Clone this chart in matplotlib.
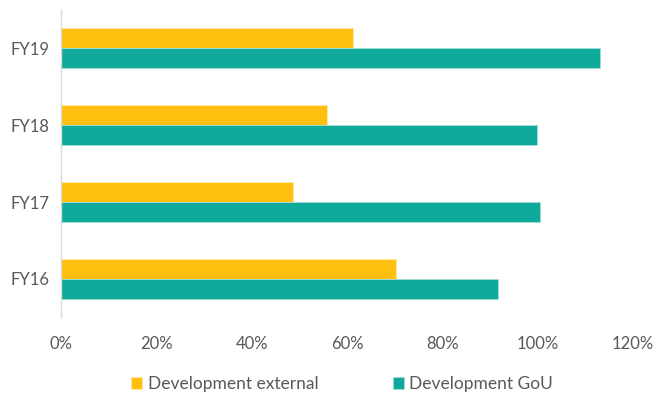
import numpy as np
import matplotlib.pyplot as plt

years = ["FY16", "FY17", "FY18", "FY19"]
dev_external = [0.703, 0.486, 0.558, 0.613]
dev_gou = [0.917, 1.005, 0.999, 1.130]

plt.rcParams['font.family'] = ['Lato', 'DejaVu Sans']

fig = plt.figure(figsize=(6.68, 3.98), dpi=100)
ax = fig.add_axes([0.0913, 0.2023, 0.8563, 0.7737])

y = np.arange(len(years))
h = 0.26
ax.barh(y + h / 2, dev_external, height=h, color="#FFC010",
        edgecolor="#FFE9A8", linewidth=0.6, label="Development external")
ax.barh(y - h / 2, dev_gou, height=h, color="#0FAA9C",
        edgecolor="#A6DCD6", linewidth=0.6, label="Development GoU")

ax.set_xlim(0, 1.2)
ax.set_ylim(-0.5, 3.5)
ax.set_yticks(y)
ax.set_yticklabels(years)
ax.set_xticks(np.arange(0, 1.21, 0.2))
ax.set_xticklabels([f"{int(round(v * 100))}%" for v in np.arange(0, 1.21, 0.2)])
ax.tick_params(length=0, labelsize=12, labelcolor="#595959")
ax.tick_params(axis="x", pad=13)
ax.tick_params(axis="y", pad=8)

for s in ["top", "right", "bottom"]:
    ax.spines[s].set_visible(False)
ax.spines["left"].set_color("#D9D9D9")
ax.spines["left"].set_linewidth(1.0)

fig.legend(loc="center", bbox_to_anchor=(0.512, 0.035), ncol=2, frameon=False,
           fontsize=12.5, labelcolor="#595959", handlelength=0.65,
           handleheight=0.65, handletextpad=0.3, columnspacing=4.3)

fig.savefig("out.png", dpi=100)
